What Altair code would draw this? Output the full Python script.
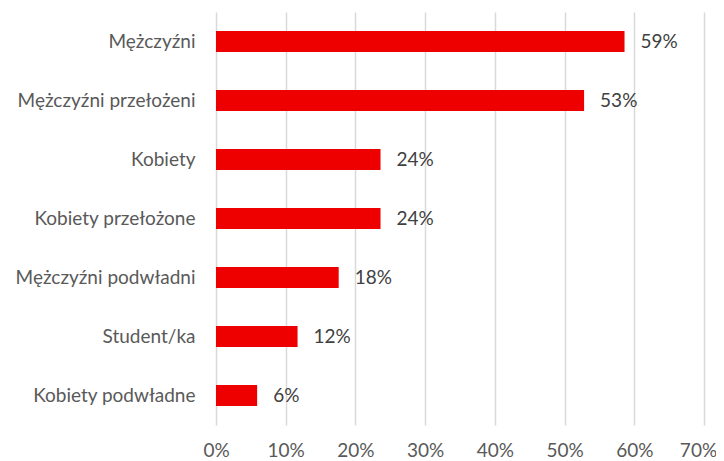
import altair as alt
import pandas as pd

categories = ["Mężczyźni", "Mężczyźni przełożeni", "Kobiety", "Kobiety przełożone",
              "Mężczyźni podwładni", "Student/ka", "Kobiety podwładne"]
values = [0.586, 0.528, 0.236, 0.236, 0.176, 0.117, 0.059]
labels = ["59%", "53%", "24%", "24%", "18%", "12%", "6%"]
x_ticks = [0, 0.1, 0.2, 0.3, 0.4, 0.5, 0.6, 0.7]

df = pd.DataFrame({"cat": categories, "val": values, "lab": labels})

FONT = "Lato"

y_enc = alt.Y("cat:N", sort=categories, title=None,
              scale=alt.Scale(paddingInner=0.644, paddingOuter=0.322),
              axis=alt.Axis(ticks=False, domain=False, labelPadding=21,
                            labelFontSize=19, labelColor="#595959", labelFont=FONT,
                            labelLimit=300))
x_enc = alt.X("val:Q", title=None,
              scale=alt.Scale(domain=[0, 0.7], nice=False),
              axis=alt.Axis(values=x_ticks, format=".0%", ticks=False, domain=False,
                            grid=True, gridColor="#D9D9D9", gridWidth=1.5,
                            labelPadding=16, labelFontSize=19, labelColor="#595959",
                            labelFont=FONT, labelFlush=False,
                            labelOffset={"condition": {"test": "datum.value >= 0.69", "value": -6},
                                         "value": 0}))

bars = alt.Chart(df).mark_bar(color="#EE0000").encode(x=x_enc, y=y_enc)
text = alt.Chart(df).mark_text(align="left", baseline="middle", dx=16,
                               fontSize=19, font=FONT, color="#404040").encode(
    x=alt.X("val:Q"), y=alt.Y("cat:N", sort=categories), text="lab:N")

chart = (bars + text).properties(
    width=488, height=413,
    autosize=alt.AutoSizeParams(type="none"),
    padding={"left": 208, "top": 4, "right": 12, "bottom": 36},
).configure_view(stroke=None)

chart.save("out.html", embed_options={"renderer": "svg", "actions": False})
